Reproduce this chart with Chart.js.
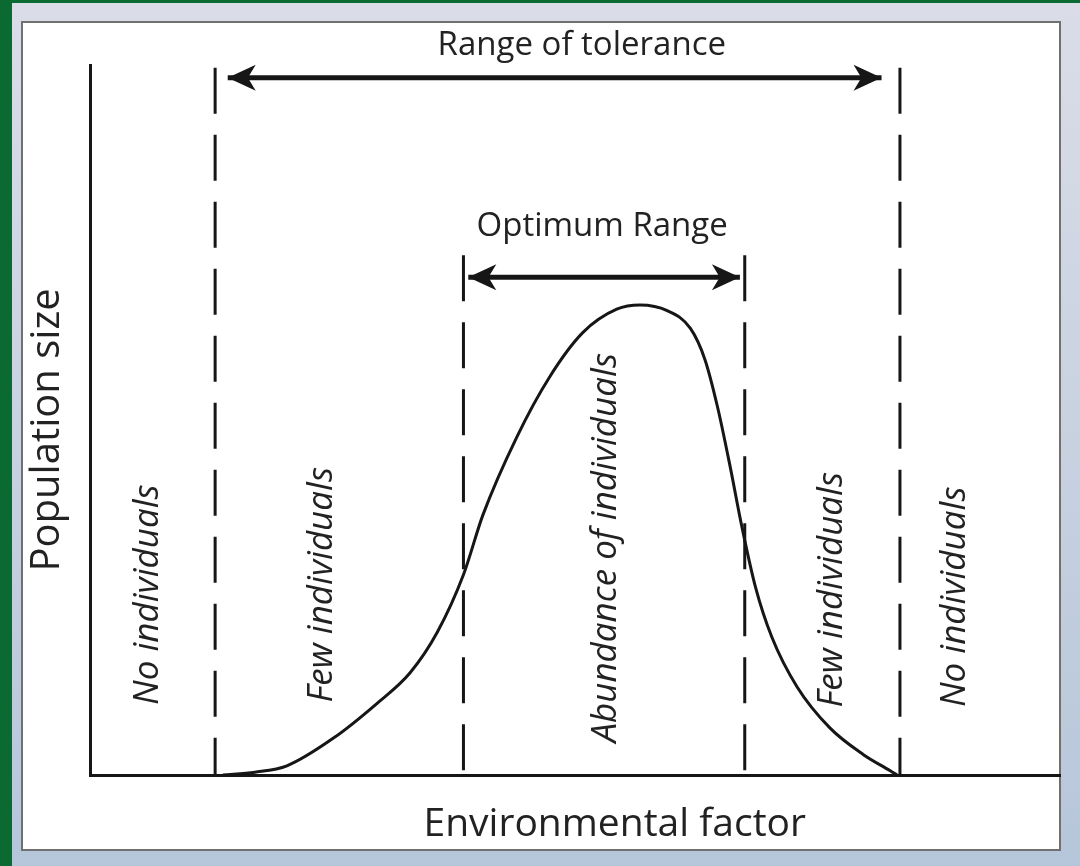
<!DOCTYPE html>
<html>
<head>
<meta charset="utf-8">
<script src="https://cdn.jsdelivr.net/npm/chart.js@4/dist/chart.umd.min.js"></script>
<style>
  html, body { margin: 0; padding: 0; }
  body { width: 1080px; height: 866px; background: #0b6a31; position: relative; overflow: hidden; }
  #frame { position: absolute; left: 12px; top: 3px; right: 0; bottom: 0; background: linear-gradient(#dadde7, #b6c6da); }
  #box { position: absolute; left: 21px; top: 21px; width: 1036px; height: 826px; background: #fff; border: 2px solid #707070; }
  #myChart { position: absolute; left: 0; top: 0; }
</style>
</head>
<body>
<div id="frame"></div>
<div id="box"></div>
<canvas id="myChart" width="1080" height="866"></canvas>
<script>
	// Kurve: Populationsgroesse ueber Umweltfaktor (Achsen 0..100, ohne Einheit)
	var curve_x = [13.7, 17.0, 20.3, 25.1, 29.6, 33.0, 35.8, 38.5, 40.5, 44.0, 47.4, 50.8, 54.3, 56.7, 59.5, 61.9, 63.4, 64.7, 66.0, 67.2, 68.6, 70.3, 72.9, 76.3, 79.7, 82.5, 83.2]
	var curve_y = [0, 0.4, 1.3, 5.2, 10.1, 14.4, 20.1, 28.2, 36.6, 47.6, 56.1, 62.3, 65.6, 66.2, 65.4, 62.9, 58.5, 51.8, 43.4, 35.0, 26.5, 19.4, 12.4, 6.6, 2.9, 0.6, 0]

	// Grenzen (gestrichelte Linien)
	var bound_x = [12.9, 38.5, 67.5, 83.5]
	var bound_top = [99.6, 73.2, 73.2, 99.6]

	// Pfeile
	var tol_x = [14.2, 81.6]
	var tol_y = 98.2
	var opt_x = [39.0, 67.0]
	var opt_y = 70.1

	// Beschriftungen
	var title_tol = 'Range of tolerance'
	var title_tol_pos = [50.7, 102.8]
	var title_opt = 'Optimum Range'
	var title_opt_pos = [52.8, 77.3]
	var x_title = 'Environmental factor'
	var x_title_pos = [54.1, -7.0]
	var y_title = 'Population size'
	var y_title_pos = [-4.4, 48.6]

	var zone_labels = ['No individuals', 'Few individuals', 'Abundance of individuals', 'Few individuals', 'No individuals']
	var zone_x = [6.0, 23.9, 53.2, 76.5, 89.2]
	var zone_y = [25.4, 26.8, 32.0, 26.1, 25.1]

	var ink = '#161616'

	var datasets = []
	var pts = []
	for (var i = 0; i < curve_x.length; i++) {
		pts.push({x: curve_x[i], y: curve_y[i]})
	}
	datasets.push({
		data: pts,
		borderColor: ink,
		borderWidth: 3,
		pointRadius: 0,
		cubicInterpolationMode: 'monotone',
		fill: false
	})
	for (var i = 0; i < bound_x.length; i++) {
		datasets.push({
			data: [{x: bound_x[i], y: bound_top[i]}, {x: bound_x[i], y: 0}],
			borderColor: ink,
			borderWidth: 3,
			borderDash: [46, 21],
			pointRadius: 0
		})
	}
	datasets.push({
		data: [{x: tol_x[0], y: tol_y}, {x: tol_x[1], y: tol_y}],
		borderColor: ink, borderWidth: 5, pointRadius: 0
	})
	datasets.push({
		data: [{x: opt_x[0], y: opt_y}, {x: opt_x[1], y: opt_y}],
		borderColor: ink, borderWidth: 5, pointRadius: 0
	})

	function arrowHead(ctx, x, y, dir) {
		var L = 28, H = 13
		ctx.beginPath()
		ctx.moveTo(x, y)
		ctx.lineTo(x - dir * L, y - H)
		ctx.lineTo(x - dir * L * 0.72, y)
		ctx.lineTo(x - dir * L, y + H)
		ctx.closePath()
		ctx.fill()
	}

	function label(ctx, text, x, y, font, rotate) {
		ctx.save()
		ctx.translate(x, y)
		if (rotate) ctx.rotate(-Math.PI / 2)
		ctx.font = font
		ctx.textAlign = 'center'
		ctx.textBaseline = 'middle'
		ctx.fillText(text, 0, 0)
		ctx.restore()
	}

	var overlay = {
		id: 'overlay',
		afterDraw: function(chart) {
			var ctx = chart.ctx
			var xs = chart.scales.x, ys = chart.scales.y
			ctx.save()
			ctx.fillStyle = ink
			arrowHead(ctx, xs.getPixelForValue(tol_x[0]), ys.getPixelForValue(tol_y), -1)
			arrowHead(ctx, xs.getPixelForValue(tol_x[1]), ys.getPixelForValue(tol_y), 1)
			arrowHead(ctx, xs.getPixelForValue(opt_x[0]), ys.getPixelForValue(opt_y), -1)
			arrowHead(ctx, xs.getPixelForValue(opt_x[1]), ys.getPixelForValue(opt_y), 1)

			ctx.fillStyle = '#222'
			label(ctx, title_tol, xs.getPixelForValue(title_tol_pos[0]), ys.getPixelForValue(title_tol_pos[1]), '33px "Open Sans"', false)
			label(ctx, title_opt, xs.getPixelForValue(title_opt_pos[0]), ys.getPixelForValue(title_opt_pos[1]), '33px "Open Sans"', false)
			label(ctx, x_title, xs.getPixelForValue(x_title_pos[0]), ys.getPixelForValue(x_title_pos[1]), '39px "Open Sans"', false)
			label(ctx, y_title, xs.getPixelForValue(y_title_pos[0]), ys.getPixelForValue(y_title_pos[1]), '40px "Open Sans"', true)
			for (var i = 0; i < zone_labels.length; i++) {
				label(ctx, zone_labels[i], xs.getPixelForValue(zone_x[i]), ys.getPixelForValue(zone_y[i]), 'italic 35px "Open Sans"', true)
			}
			ctx.restore()
		}
	}

	var chart = new Chart(document.getElementById('myChart').getContext('2d'), {
		type: 'line',
		data: { datasets: datasets },
		options: {
			responsive: false,
			animation: false,
			devicePixelRatio: 1,
			layout: { padding: { left: 90, top: 65, right: 20, bottom: 91 } },
			plugins: { legend: { display: false }, tooltip: { enabled: false } },
			scales: {
				x: {
					type: 'linear', min: 0, max: 100,
					ticks: { display: false },
					grid: { display: false, drawTicks: false },
					border: { display: true, color: ink, width: 3 }
				},
				y: {
					type: 'linear', min: 0, max: 100,
					ticks: { display: false },
					grid: { display: false, drawTicks: false },
					border: { display: true, color: ink, width: 3 }
				}
			}
		},
		plugins: [overlay]
	});
</script>
</body>
</html>
